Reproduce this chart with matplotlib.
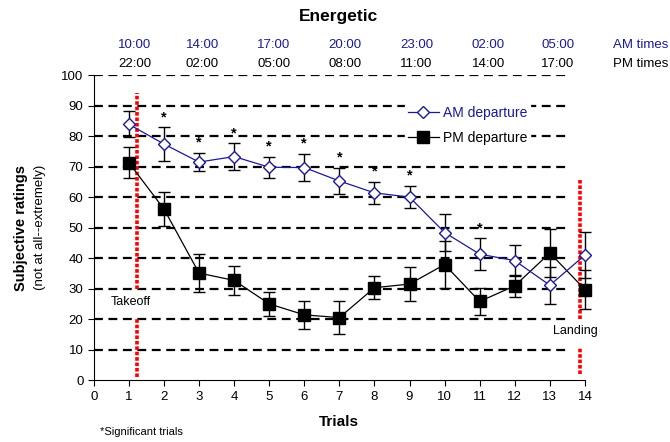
import matplotlib
matplotlib.use("Agg")
import matplotlib.pyplot as plt
from matplotlib.lines import Line2D
import numpy as np

plt.rcParams['font.family'] = ['Liberation Sans', 'DejaVu Sans']

# datos
trials = np.arange(1, 15)
am_mean = [83.9, 77.4, 71.5, 73.3, 69.8, 69.7, 65.3, 61.4, 60.0, 48.4, 41.3, 39.2, 31.1, 41.0]
am_err = [4.3, 5.5, 3.0, 4.3, 3.5, 4.5, 4.4, 3.6, 3.7, 6.0, 5.2, 5.0, 6.0, 7.5]
pm_mean = [71.3, 56.1, 35.1, 32.7, 25.0, 21.4, 20.5, 30.3, 31.5, 37.9, 25.8, 30.9, 41.7, 29.7]
pm_err = [5.0, 5.5, 6.3, 4.8, 3.9, 4.7, 5.3, 3.7, 5.7, 7.6, 4.3, 3.5, 7.8, 6.3]
signif = [2, 3, 4, 5, 6, 7, 8, 9, 11]

am_times = ["10:00", "14:00", "17:00", "20:00", "23:00", "02:00", "05:00"]
pm_times = ["22:00", "02:00", "05:00", "08:00", "11:00", "14:00", "17:00"]
time_pos = [1.16, 3.10, 5.13, 7.15, 9.20, 11.24, 13.23]

blue = "#1a1a99"
fig = plt.figure(figsize=(6.7, 4.42), dpi=100)
ax = fig.add_axes([0.140, 0.140, 0.733, 0.690])

# lineas discontinuas horizontales
for yv in range(10, 101, 10):
    ax.plot([0, 13.5], [yv, yv], color="black", lw=1.6, ls=(0, (4, 2.5)), zorder=1)

# despegue / aterrizaje
red_style = dict(color="#ff0000", lw=2.6, ls=(0, (1, 0.5)), zorder=2, clip_on=False)
ax.plot([1.24, 1.24], [1, 20], **red_style)
ax.plot([1.24, 1.24], [30, 94], **red_style)
ax.plot([13.86, 13.86], [2, 11], **red_style)
ax.plot([13.86, 13.86], [20, 66], **red_style)
ax.text(0.47, 25.5, "Takeoff", fontsize=9, va="center", ha="left")
ax.text(13.1, 16, "Landing", fontsize=9, va="center", ha="left")

pm = ax.errorbar(trials, pm_mean, yerr=pm_err, color="black", lw=0.9, marker="s", ms=8.5,
                 mfc="black", mec="black", ecolor="black", elinewidth=1, capsize=4,
                 zorder=4)
am = ax.errorbar(trials, am_mean, yerr=am_err, color=blue, lw=0.9, marker="D", ms=6,
                 mfc="white", mec=blue, mew=1.0, ecolor="black", elinewidth=1, capsize=4,
                 zorder=5)
for cont in (pm, am):
    for art in cont.lines[0:1] + tuple(cont.lines[1]) + tuple(cont.lines[2]):
        art.set_clip_on(False)

for t in signif:
    i = t - 1
    ax.text(t, am_mean[i] + am_err[i] + 1.0, "*", ha="center", va="bottom", fontsize=10.5,
            fontweight="bold")

ax.set_xlim(0, 14)
ax.set_ylim(0, 100)
ax.set_xticks(range(0, 15))
ax.set_yticks(range(0, 101, 10))
ax.tick_params(labelsize=9.5, direction="out", length=4)
for s in ["top", "right"]:
    ax.spines[s].set_visible(False)

handles = [Line2D([], [], color=blue, lw=0.9, marker="D", ms=6, mfc="white", mec=blue),
           Line2D([], [], color="black", lw=0.9, marker="s", ms=8.5, mfc="black")]
leg = ax.legend(handles, ["AM departure", "PM departure"], loc="upper left",
                bbox_to_anchor=(0.62, 0.93), frameon=True, fontsize=10, handlelength=2.2,
                borderpad=0.2, labelspacing=0.75, handletextpad=0.3)
leg.get_frame().set_edgecolor("white")
leg.get_frame().set_facecolor("white")
leg.get_frame().set_alpha(1)
leg.get_texts()[0].set_color(blue)

# horas en la parte superior
for p, a, b in zip(time_pos, am_times, pm_times):
    ax.text(p, 110.0, a, ha="center", va="center", color=blue, fontsize=9.5, clip_on=False)
    ax.text(p, 103.8, b, ha="center", va="center", color="black", fontsize=9.5, clip_on=False)
ax.text(15.6, 110.0, "AM times", ha="center", va="center", color=blue, fontsize=9.5, clip_on=False)
ax.text(15.6, 103.8, "PM times", ha="center", va="center", color="black", fontsize=9.5, clip_on=False)

fig.text(0.505, 0.962, "Energetic", ha="center", va="center", fontsize=12.5, fontweight="bold")
ax.set_xlabel("Trials", fontsize=11, fontweight="bold", labelpad=9)
fig.text(0.032, 0.485, "Subjective ratings", rotation=90, ha="center", va="center",
         fontsize=10.5, fontweight="bold")
fig.text(0.060, 0.485, "(not at all--extremely)", rotation=90, ha="center", va="center",
         fontsize=9.5)
fig.text(0.150, 0.022, "*Significant trials", ha="left", va="center", fontsize=8)

fig.savefig("out.png", dpi=100)
